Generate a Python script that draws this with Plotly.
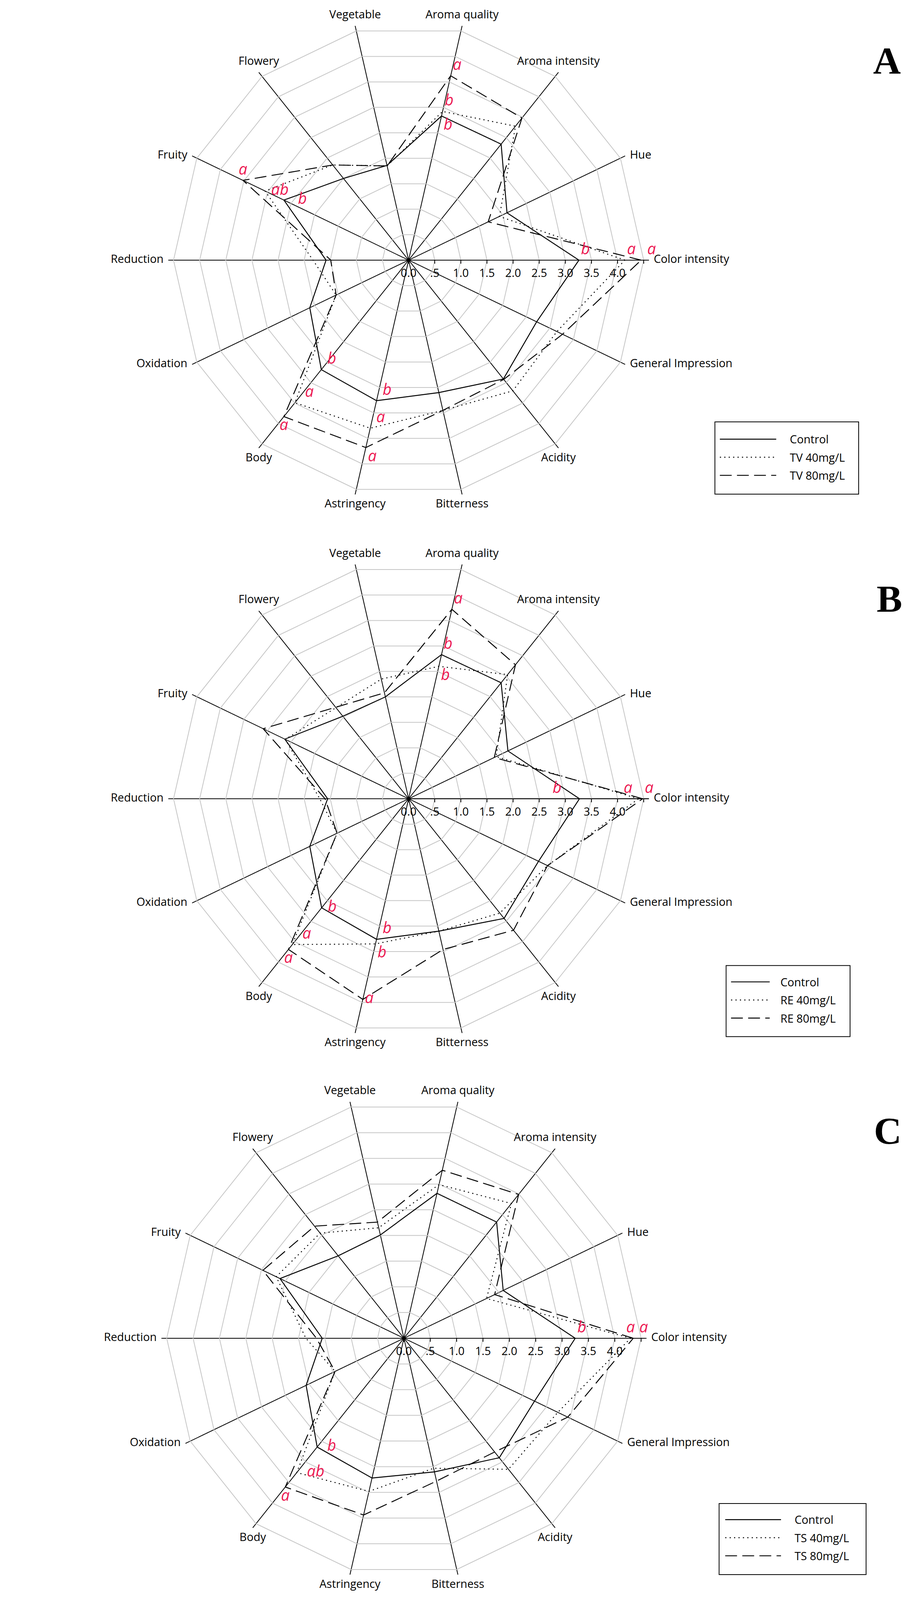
import plotly.graph_objects as go

# The photographed page shows only about the top 4100 px of the 2332x5387 window,
# so the whole reference layout is scaled vertically (and each radar uniformly)
# to fit into that visible part.
W = 2332
OFF = 8                      # browser default body margin
VIS_H = 4100                 # usable page height
TOP = 20                     # top pad so the upper labels are not clipped
REF_H = 5387
S = (VIS_H - TOP - 10) / REF_H
FW, FH = W - 2 * OFF, VIS_H - 2 * OFF

# ---------------- data ----------------
categories = ["Color intensity", "Hue", "Aroma intensity", "Aroma quality", "Vegetable",
              "Flowery", "Fruity", "Reduction", "Oxidation", "Body", "Astringency",
              "Bitterness", "Acidity", "General Impression"]

tick_vals = [0, 0.5, 1.0, 1.5, 2.0, 2.5, 3.0, 3.5, 4.0, 4.5]
tick_text = ["0.0", ".5", "1.0", "1.5", "2.0", "2.5", "3.0", "3.5", "4.0", ""]

names_A = ["Control", "TV 40mg/L", "TV 80mg/L"]
control_A = [3.26, 2.09, 2.84, 2.83, 1.86, 2.00, 2.65, 1.58, 2.10, 2.68, 2.76, 2.60, 2.91, 2.72]
tv40_A    = [4.14, 1.93, 3.28, 2.92, 1.85, 2.33, 3.05, 1.83, 1.54, 3.49, 3.30, 2.95, 3.20, 3.15]
tv80_A    = [4.45, 1.69, 3.48, 3.62, 1.85, 2.33, 3.52, 1.49, 1.54, 3.83, 3.68, 2.95, 2.92, 3.27]

names_B = ["Control", "RE 40mg/L", "RE 80mg/L"]
control_B = [3.27, 2.11, 2.84, 2.83, 2.00, 2.02, 2.63, 1.55, 2.10, 2.67, 2.76, 2.60, 2.93, 2.76]
re40_B    = [4.40, 1.86, 3.04, 2.60, 2.35, 2.23, 2.62, 1.70, 1.52, 3.57, 2.85, 2.60, 2.80, 2.95]
re80_B    = [4.48, 1.82, 3.28, 3.72, 2.08, 2.24, 3.09, 1.60, 1.52, 3.69, 3.94, 2.96, 3.22, 2.95]

names_C = ["Control", "TS 40mg/L", "TS 80mg/L"]
control_C = [3.25, 2.09, 2.82, 2.82, 2.01, 2.00, 2.61, 1.55, 2.06, 2.64, 2.72, 2.60, 2.90, 2.75]
ts40_C    = [4.30, 1.74, 3.27, 2.99, 2.15, 2.55, 2.69, 1.86, 1.45, 3.26, 2.98, 2.53, 3.18, 3.24]
ts80_C    = [4.35, 1.91, 3.49, 3.27, 2.26, 2.72, 2.97, 1.66, 1.45, 3.61, 3.44, 2.78, 2.76, 3.45]

# significance letters: (category, letter, text position, nbsp padding)
letters_A = [
    [("Aroma quality", "b", "bottom right", 0), ("Fruity", "b", "middle right", 3),
     ("Color intensity", "b", "top right", 0), ("Body", "b", "top right", 1),
     ("Astringency", "b", "top right", 1)],
    [("Aroma quality", "b", "top right", 0), ("Fruity", "ab", "middle right", 1),
     ("Color intensity", "a", "top right", 0), ("Body", "a", "top right", 2),
     ("Astringency", "a", "top right", 1)],
    [("Aroma quality", "a", "top right", 0), ("Fruity", "a", "top center", 0),
     ("Color intensity", "a", "top right", 1), ("Body", "a", "bottom center", 0),
     ("Astringency", "a", "bottom right", 0)],
]
letters_B = [
    [("Aroma quality", "b", "top right", 0), ("Color intensity", "b", "top left", 4),
     ("Body", "b", "middle right", 1), ("Astringency", "b", "top right", 1)],
    [("Aroma quality", "b", "bottom right", 0), ("Color intensity", "a", "top left", 1),
     ("Body", "a", "top right", 2), ("Astringency", "b", "bottom right", 0)],
    [("Aroma quality", "a", "top right", 0), ("Color intensity", "a", "top right", 0),
     ("Body", "a", "bottom center", 0), ("Astringency", "a", "middle right", 0)],
]
letters_C = [
    [("Color intensity", "b", "top right", 0), ("Body", "b", "middle right", 2)],
    [("Color intensity", "a", "top center", 0), ("Body", "ab", "middle right", 2)],
    [("Color intensity", "a", "top right", 1), ("Body", "a", "bottom center", 0)],
]

# ---------------- style / layout constants ----------------
FONT = "Open Sans"
RED = "#EC1A52"
RMAX = 4.6
FS_LABEL = 38 * S
FS_LETTER = 52 * S
DASHES = ["solid", "%.1fpx,%.1fpx" % (4 * S, 11 * S), "%.1fpx,%.1fpx" % (40 * S, 18 * S)]
LABEL_POS = ["middle right", "middle right", "top center", "top center", "top center",
             "top center", "middle left", "middle left", "middle left", "bottom center",
             "bottom center", "bottom center", "bottom center", "middle right"]

# reference-image pixel positions (top-left origin); transformed below
panels = [
    dict(tag="A", polar="polar", legend="legend", cx=1046, cy=855, unit=177,
         names=names_A, values=[control_A, tv40_A, tv80_A], letters=letters_A,
         letter_xy=(2270, 178), box=(1711, 1403, 2198, 1648), line_x=(1741, 1932),
         row1=1464, pad=4),
    dict(tag="B", polar="polar2", legend="legend2", cx=1046, cy=2680, unit=177,
         names=names_B, values=[control_B, re40_B, re80_B], letters=letters_B,
         letter_xy=(2277, 2002), box=(1756, 3245, 2176, 3486), line_x=(1786, 1917),
         row1=3303, pad=3),
    dict(tag="C", polar="polar3", legend="legend3", cx=1034, cy=4508, unit=178.6,
         names=names_C, values=[control_C, ts40_C, ts80_C], letters=letters_C,
         letter_xy=(2272, 3805), box=(1719, 5068, 2217, 5309), line_x=(1753, 1942),
         row1=5125, pad=4),
]


def ty(y):            # reference y -> page y
    return TOP + y * S


def px(x):            # page x -> paper
    return (x - OFF) / FW


def py(y):            # page y -> paper
    return 1 - (y - OFF) / FH


NB = "\u00a0"

fig = go.Figure()
layout = dict(width=FW, height=FH, margin=dict(l=0, r=0, t=0, b=0),
              paper_bgcolor="white", plot_bgcolor="white", showlegend=True,
              annotations=[], shapes=[])

for p in panels:
    R = RMAX * p["unit"] * S
    cx, cy = p["cx"], ty(p["cy"])
    layout[p["polar"]] = dict(
        domain=dict(x=[px(cx - R), px(cx + R)], y=[py(cy + R), py(cy - R)]),
        gridshape="linear",
        bgcolor="white",
        angularaxis=dict(type="category", categoryorder="array", categoryarray=categories,
                         rotation=0, direction="counterclockwise",
                         showline=False, showgrid=True, gridcolor="black", gridwidth=2,
                         ticks="", showticklabels=False),
        radialaxis=dict(range=[0, RMAX], angle=0, side="clockwise",
                        tickmode="array", tickvals=tick_vals, ticktext=tick_text,
                        showline=True, linecolor="black", linewidth=2,
                        ticks="outside", ticklen=8, tickwidth=2, tickcolor="black",
                        showgrid=True, gridcolor="#C6C6C6", gridwidth=2,
                        tickfont=dict(family=FONT, size=FS_LABEL, color="black")),
    )

    # series lines
    for i, (name, vals) in enumerate(zip(p["names"], p["values"])):
        fig.add_trace(go.Scatterpolar(
            r=vals + [vals[0]], theta=categories + [categories[0]],
            mode="lines", name=NB * p["pad"] + name,
            line=dict(color="black", width=2.4, dash=DASHES[i]),
            subplot=p["polar"], legend=p["legend"], legendgroup=p["tag"] + str(i),
            hoverinfo="skip"))

    # significance letters attached to the data vertices
    for i, vals in enumerate(p["values"]):
        texts = [""] * len(categories)
        poss = ["middle center"] * len(categories)
        for cat, let, pos, n in p["letters"][i]:
            k = categories.index(cat)
            texts[k] = let + NB * n if "left" in pos else NB * n + let
            poss[k] = pos
        fig.add_trace(go.Scatterpolar(
            r=vals, theta=categories, mode="markers+text",
            marker=dict(size=7, opacity=0), text=texts, textposition=poss,
            textfont=dict(family=FONT, size=FS_LETTER, color=RED, style="italic"),
            cliponaxis=False, showlegend=False, hoverinfo="skip", subplot=p["polar"]))

    # category labels at the end of the spokes
    fig.add_trace(go.Scatterpolar(
        r=[RMAX] * len(categories), theta=categories, mode="markers+text",
        marker=dict(size=18, opacity=0), text=categories, textposition=LABEL_POS,
        textfont=dict(family=FONT, size=FS_LABEL, color="black"),
        cliponaxis=False, showlegend=False, hoverinfo="skip", subplot=p["polar"]))

    # legend frame and legend
    x0, y0, x1, y1 = p["box"]
    bx0 = x1 - (x1 - x0) * S
    layout["shapes"].append(dict(type="rect", xref="paper", yref="paper",
                                 x0=px(bx0), x1=px(x1), y0=py(ty(y1)), y1=py(ty(y0)),
                                 line=dict(color="black", width=2), fillcolor="rgba(0,0,0,0)"))
    l0, l1 = p["line_x"]
    line_start = bx0 + (l0 - x0) * S
    layout[p["legend"]] = dict(
        x=px(line_start - 15), y=py(ty(p["row1"]) - 27), xanchor="left", yanchor="top",
        bgcolor="rgba(0,0,0,0)", borderwidth=0, itemwidth=max(30, (l1 - l0) * S),
        tracegroupgap=6, traceorder="grouped",
        font=dict(family=FONT, size=FS_LABEL, color="black"))

    lx, ly = p["letter_xy"]
    layout["annotations"].append(dict(text="<b>" + p["tag"] + "</b>", xref="paper", yref="paper",
                                      x=px(lx), y=py(ty(ly)), xanchor="center", yanchor="middle",
                                      showarrow=False,
                                      font=dict(family="Liberation Serif", size=130 * S,
                                                color="black")))

fig.update_layout(**layout)
fig.write_html("out.html")
